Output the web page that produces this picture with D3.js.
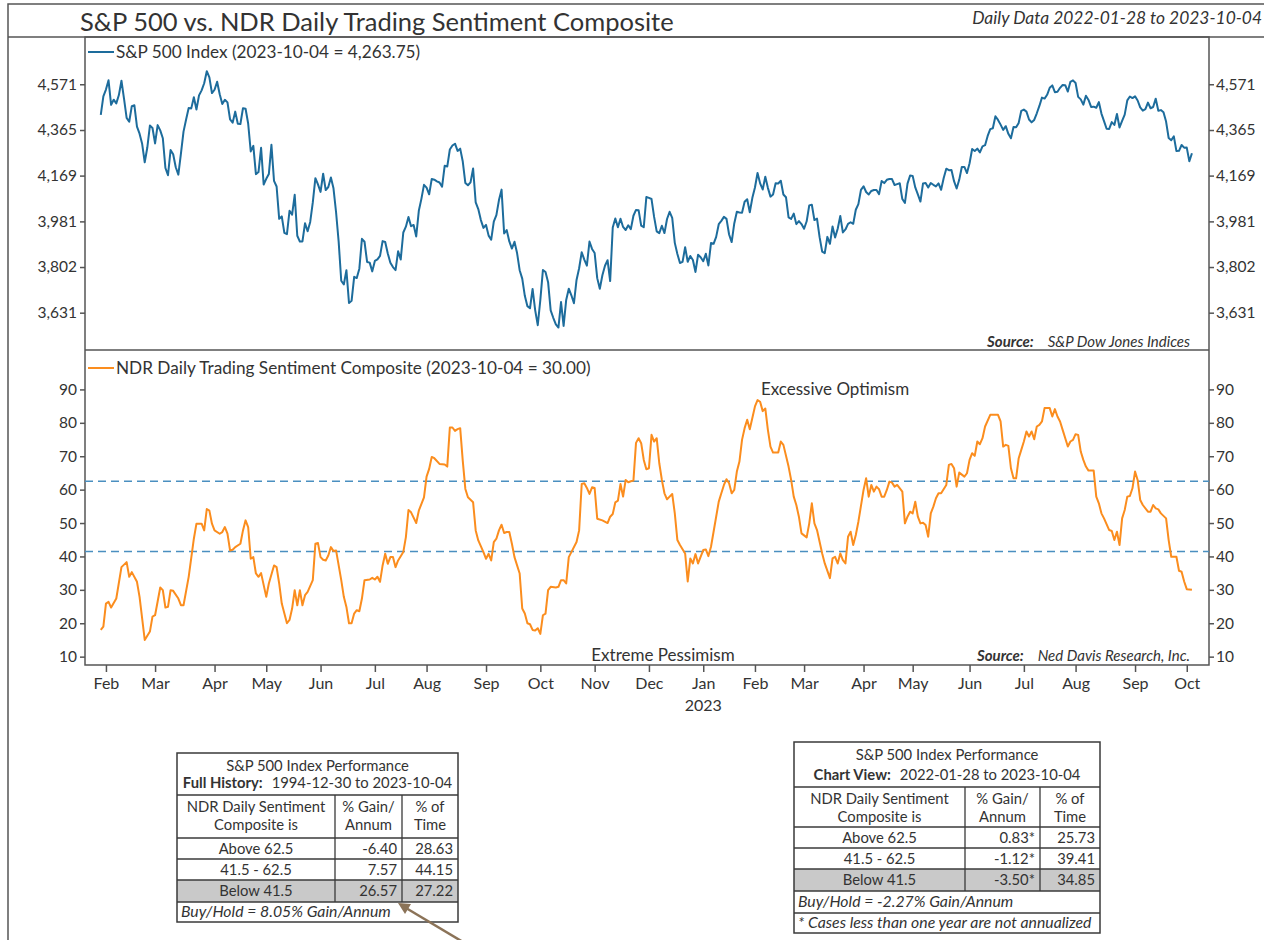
<!DOCTYPE html>
<html>
<head>
<meta charset="utf-8">
<script src="https://cdn.jsdelivr.net/npm/d3@7"></script>
<style>
  body { margin: 0; background: #fff; }
  svg text { font-family: Lato, "Open Sans", sans-serif; fill: #333; }
</style>
</head>
<body>
<svg id="chart" width="1264" height="940"></svg>
<script>
// S&P 500 vs. NDR Daily Trading Sentiment Composite
// x axis runs on trading sessions (weekends and NYSE holidays skipped)

var startDate = "2022-01-28";
var endDate = "2023-10-04";
var holidays = ["2022-02-21", "2022-04-15", "2022-05-30", "2022-06-20", "2022-07-04",
                "2022-09-05", "2022-11-24", "2022-12-26", "2023-01-02", "2023-01-16",
                "2023-02-20", "2023-04-07", "2023-05-29", "2023-06-19", "2023-07-04",
                "2023-09-04"];

// daily S&P 500 closes, one per session, grouped by month
var spxClose = [
  4431.85, 4515.55,
  4546.54, 4589.38, 4477.44, 4500.53, 4483.87, 4521.54, 4587.18, 4504.08, 4418.64, 4401.67, 4471.07, 4475.01, 4380.26, 4348.87, 4304.76, 4225.50, 4288.70, 4384.65, 4373.94,
  4306.26, 4386.54, 4363.49, 4328.87, 4201.09, 4170.70, 4277.88, 4259.52, 4204.31, 4173.11, 4262.45, 4357.86, 4411.67, 4463.12, 4461.18, 4511.61, 4456.24, 4520.16, 4543.06, 4575.52, 4631.60, 4602.45, 4530.41,
  4545.86, 4582.64, 4525.12, 4481.15, 4500.21, 4488.28, 4412.53, 4397.45, 4446.59, 4392.59, 4391.69, 4462.21, 4459.45, 4393.66, 4271.78, 4296.12, 4175.20, 4183.96, 4287.50, 4131.93,
  4155.38, 4175.48, 4300.17, 4146.87, 4123.34, 3991.24, 4001.05, 3935.18, 3930.08, 4023.89, 4008.01, 4088.85, 3923.68, 3900.79, 3901.36, 3973.75, 3941.48, 3978.73, 4057.84, 4158.24, 4132.15,
  4101.23, 4176.82, 4108.54, 4121.43, 4160.68, 4115.77, 4017.82, 3900.86, 3749.63, 3735.48, 3789.99, 3666.77, 3674.84, 3764.79, 3759.89, 3795.73, 3911.74, 3900.11, 3821.55, 3818.83, 3785.38,
  3825.33, 3831.39, 3845.08, 3902.62, 3899.38, 3854.43, 3818.80, 3801.78, 3790.38, 3863.16, 3830.85, 3936.69, 3959.90, 3998.95, 3961.63, 3966.84, 3921.05, 4023.61, 4072.43, 4130.29,
  4118.63, 4091.19, 4155.17, 4151.94, 4145.19, 4140.06, 4122.47, 4210.24, 4207.27, 4280.15, 4297.14, 4305.20, 4274.04, 4283.74, 4228.48, 4137.99, 4128.73, 4140.77, 4199.12, 4057.66, 4030.61, 3986.16, 3955.00,
  3966.85, 3924.26, 3908.19, 3979.87, 4006.18, 4067.36, 4110.41, 3932.69, 3946.01, 3901.35, 3873.33, 3899.89, 3855.93, 3789.93, 3757.99, 3693.23, 3655.04, 3647.29, 3719.04, 3640.47, 3585.62,
  3678.43, 3790.93, 3783.28, 3744.52, 3639.66, 3612.39, 3588.84, 3577.03, 3669.91, 3583.07, 3677.95, 3719.98, 3695.16, 3665.78, 3752.75, 3797.34, 3859.11, 3830.60, 3807.30, 3901.06, 3871.98,
  3856.10, 3759.69, 3719.89, 3770.55, 3806.80, 3828.11, 3748.57, 3956.37, 3992.93, 3957.25, 3991.73, 3958.79, 3946.56, 3965.34, 3949.94, 4003.58, 4027.26, 4026.12, 3963.94, 3957.63, 4080.11,
  4076.57, 4071.70, 3998.84, 3941.26, 3933.92, 3963.51, 3934.38, 3990.56, 4019.65, 3995.32, 3895.75, 3852.36, 3817.66, 3821.62, 3878.44, 3822.39, 3844.82, 3829.25, 3783.22, 3849.28, 3839.50,
  3824.14, 3852.97, 3808.10, 3895.08, 3892.09, 3919.25, 3969.61, 3983.17, 3999.09, 3990.97, 3928.86, 3898.85, 3972.61, 4019.81, 4016.95, 4016.22, 4060.43, 4070.56, 4017.77, 4076.60,
  4119.21, 4179.76, 4136.48, 4111.08, 4164.00, 4117.86, 4081.50, 4090.46, 4137.29, 4136.13, 4147.60, 4090.41, 4079.09, 3997.34, 3991.05, 4012.32, 3970.04, 3982.24, 3970.15,
  3951.39, 3981.35, 4045.64, 4048.42, 3986.37, 3992.01, 3918.32, 3861.59, 3855.76, 3919.29, 3891.93, 3960.28, 3916.64, 3951.57, 4002.87, 3936.97, 3948.72, 3970.99, 3977.53, 3971.27, 4027.81, 4050.83, 4109.31,
  4124.51, 4100.60, 4090.38, 4105.02, 4109.11, 4108.94, 4091.95, 4146.22, 4137.64, 4151.32, 4154.87, 4154.52, 4129.79, 4133.52, 4137.04, 4071.63, 4055.99, 4135.35, 4169.48,
  4167.87, 4119.58, 4090.75, 4061.22, 4136.25, 4138.12, 4119.17, 4137.64, 4130.62, 4124.08, 4136.28, 4109.90, 4158.77, 4198.05, 4191.98, 4192.63, 4145.58, 4115.24, 4151.28, 4205.45, 4205.52, 4179.83,
  4221.02, 4282.37, 4273.79, 4283.85, 4267.52, 4293.93, 4298.86, 4338.93, 4369.01, 4372.59, 4425.84, 4409.59, 4388.71, 4365.69, 4381.89, 4348.33, 4328.82, 4378.41, 4376.86, 4396.44, 4450.38,
  4455.59, 4446.82, 4411.59, 4398.95, 4409.53, 4439.26, 4472.16, 4510.04, 4505.42, 4522.79, 4554.98, 4565.72, 4534.87, 4536.34, 4554.64, 4567.46, 4566.75, 4537.41, 4582.23, 4588.96,
  4576.73, 4513.39, 4501.89, 4478.03, 4518.44, 4499.38, 4467.71, 4468.83, 4464.05, 4489.72, 4437.86, 4404.33, 4370.36, 4369.71, 4399.77, 4387.55, 4436.01, 4376.31, 4405.71, 4433.31, 4497.63, 4514.87, 4507.66,
  4515.77, 4496.83, 4465.48, 4451.14, 4457.49, 4487.46, 4461.90, 4467.44, 4505.10, 4450.32, 4453.53, 4443.95, 4402.20, 4330.00, 4320.06, 4337.44, 4273.53, 4274.51, 4299.70, 4288.05,
  4288.39, 4229.45, 4263.75
];

// sentiment composite: [session number, value]
var sentiment = [
  [0,18.0],[1,19.0],[2,25.9],[3,26.4],[4,24.7],[6,27.4],[8,36.8],[10,38.3],[11,33.9],[12,35.3],
  [14,32.4],[15,27.9],[17,15.0],[19,17.5],[20,22.0],[21,22.4],[23,30.7],[24,29.9],[25,24.7],[26,24.9],
  [27,29.9],[28,29.7],[30,27.4],[31,25.4],[32,25.4],[34,33.9],[36,45.3],[37,49.8],[39,49.8],[40,47.8],
  [41,54.2],[42,53.7],[43,49.8],[44,47.8],[46,46.8],[47,47.3],[48,48.8],[49,46.8],[50,41.8],[51,42.0],
  [52,42.8],[54,43.8],[55,47.8],[56,50.8],[57,48.8],[58,39.3],[59,39.8],[60,34.9],[61,33.9],[62,35.0],
  [64,27.9],[65,31.9],[67,37.3],[68,36.8],[69,31.9],[70,25.9],[72,20.0],[73,21.0],[74,24.4],[75,29.9],
  [76,25.4],[77,29.9],[78,25.4],[79,28.4],[80,29.4],[82,32.9],[83,43.8],[84,44.0],[85,39.8],[86,39.0],
  [87,38.8],[88,40.3],[89,42.8],[90,41.6],[91,41.8],[93,32.9],[94,27.9],[95,24.9],[96,20.0],[97,20.0],
  [98,22.9],[99,23.9],[100,23.6],[101,27.4],[102,32.9],[104,33.1],[105,33.6],[106,33.1],[107,33.9],[108,32.4],
  [109,37.3],[110,40.8],[111,37.8],[112,39.8],[113,39.8],[114,36.8],[115,38.8],[117,41.3],[118,45.8],[119,53.9],
  [120,53.2],[122,50.0],[123,53.7],[125,57.7],[126,63.9],[127,66.2],[128,69.8],[129,69.4],[131,67.7],[133,67.5],
  [134,66.9],[135,78.6],[136,78.6],[137,77.6],[138,78.1],[139,78.4],[140,68.6],[141,60.2],[142,57.7],[144,56.2],
  [145,47.8],[146,44.8],[148,41.3],[149,39.3],[150,40.8],[151,38.8],[152,44.3],[153,45.3],[154,47.8],[155,49.5],
  [156,47.0],[157,47.3],[158,47.3],[159,43.8],[160,39.8],[162,34.9],[163,24.4],[164,22.9],[165,20.0],[166,19.7],
  [167,18.0],[168,17.8],[169,18.5],[170,16.8],[171,22.4],[172,22.9],[173,29.9],[174,30.9],[176,30.7],[177,30.9],
  [178,32.9],[179,32.9],[180,31.9],[181,39.8],[182,41.3],[184,44.3],[185,47.8],[186,61.7],[187,61.9],[188,60.5],
  [189,58.7],[190,60.7],[191,60.5],[192,51.3],[194,50.8],[196,50.0],[197,51.9],[198,52.7],[199,56.2],[200,56.7],
  [201,61.7],[202,57.9],[203,62.9],[204,62.2],[205,62.5],[206,62.7],[207,74.0],[208,75.4],[209,73.9],[210,68.9],
  [211,66.1],[212,66.4],[213,76.4],[214,74.4],[215,75.4],[216,67.9],[217,62.9],[218,58.9],[219,57.1],[220,57.9],
  [221,58.7],[222,52.9],[223,44.9],[224,43.4],[226,40.9],[227,32.5],[228,39.4],[229,37.9],[230,40.7],[231,37.9],
  [233,41.9],[234,42.1],[235,40.1],[236,42.9],[237,47.4],[239,56.4],[240,58.9],[241,61.4],[242,63.1],[243,61.9],
  [244,58.9],[245,59.9],[246,65.4],[247,68.4],[248,74.9],[249,78.4],[250,80.9],[251,78.1],[253,84.9],[254,86.8],
  [255,86.3],[256,83.5],[257,84.3],[258,77.9],[259,72.9],[260,71.1],[262,71.1],[263,74.4],[264,73.4],[266,66.9],
  [267,62.9],[268,57.9],[269,55.4],[270,51.9],[271,46.9],[273,45.7],[274,49.9],[275,55.9],[276,49.9],[277,47.9],
  [279,40.9],[280,37.9],[282,33.5],[283,39.4],[284,39.9],[285,37.9],[286,40.9],[287,38.9],[288,37.9],[289,45.9],
  [290,47.4],[291,43.4],[292,46.4],[293,50.4],[295,59.9],[296,63.4],[297,57.9],[298,61.4],[299,59.4],[300,60.9],
  [301,60.1],[302,57.9],[303,57.9],[304,59.9],[305,62.4],[306,62.1],[307,60.9],[308,61.4],[310,59.4],[311,49.9],
  [312,51.9],[313,53.4],[314,52.9],[315,56.4],[316,51.9],[317,49.9],[318,50.1],[319,49.4],[320,45.9],[321,52.9],
  [322,54.9],[323,57.4],[324,58.9],[325,58.9],[327,61.4],[328,67.4],[329,67.7],[330,66.4],[331,60.9],[332,65.1],
  [334,63.9],[335,64.9],[336,68.9],[337,70.9],[338,70.1],[339,74.4],[340,73.6],[341,75.4],[342,78.9],[344,82.4],
  [345,82.4],[347,82.4],[348,80.4],[349,72.9],[350,73.4],[351,73.1],[352,66.4],[353,63.4],[354,63.4],[355,69.4],
  [356,71.9],[357,74.4],[358,77.4],[359,75.9],[360,77.4],[361,75.1],[362,78.9],[363,79.4],[364,80.4],[365,84.4],
  [367,84.4],[368,81.9],[369,84.1],[370,81.9],[371,80.4],[372,77.9],[374,72.9],[375,74.4],[376,74.9],[377,76.6],
  [378,76.4],[379,71.4],[380,68.9],[381,66.9],[382,65.7],[384,65.7],[385,57.9],[386,55.9],[387,52.9],[388,51.4],
  [390,47.9],[391,47.6],[392,44.9],[393,47.4],[394,43.4],[395,51.4],[396,53.9],[397,57.9],[398,58.1],[399,60.4],
  [400,65.4],[401,62.9],[402,56.9],[403,55.4],[405,53.4],[406,53.4],[407,55.4],[408,54.4],[409,54.1],[410,52.9],
  [412,51.4],[413,44.9],[414,39.9],[415,39.9],[416,39.9],[417,35.7],[418,35.4],[419,32.5],[420,30.2],[422,30.0]
];

var spxTicks = [3631, 3802, 3981, 4169, 4365, 4571];
var sentimentTicks = [10, 20, 30, 40, 50, 60, 70, 80, 90];
var thresholds = [62.5, 41.5];

var fullHistoryRows = [
  ["Above 62.5", "-6.40", "28.63"],
  ["41.5 - 62.5", "7.57", "44.15"],
  ["Below 41.5", "26.57", "27.22"]
];
var chartViewRows = [
  ["Above 62.5", "0.83*", "25.73"],
  ["41.5 - 62.5", "-1.12*", "39.41"],
  ["Below 41.5", "-3.50*", "34.85"]
];

// trading sessions
var parseDay = d3.utcParse("%Y-%m-%d");
var fmtDay = d3.utcFormat("%Y-%m-%d");
var sessions = d3.utcDays(parseDay(startDate), d3.utcDay.offset(parseDay(endDate), 1))
  .filter(function (d) { return d.getUTCDay() % 6 !== 0 && holidays.indexOf(fmtDay(d)) < 0; });

var monthStarts = sessions.map(function (d, i) { return i; })
  .filter(function (i) { return i > 0 && sessions[i].getUTCMonth() !== sessions[i - 1].getUTCMonth(); });

var svg = d3.select("#chart");
var box = { left: 85, right: 1209, top: 37, mid: 350, bottom: 665 };
var axisColor = "#555";

var x = d3.scaleLinear().domain([-6.1, 428.6]).range([box.left, box.right]);
var ySpx = d3.scaleLog().domain([3497, 4794]).range([box.mid, box.top]);
var ySent = d3.scaleLinear().domain([7.5, 101.8]).range([box.bottom, box.mid]);

// outer frame and title
svg.append("path")
   .attr("d", "M8,940 V4 H1264 M8,37 H1264")
   .attr("fill", "none").attr("stroke", axisColor).attr("stroke-width", 1.5);

svg.append("text").attr("x", 80).attr("y", 31)
   .style("font-size", "25.5px")
   .text("S&P 500 vs. NDR Daily Trading Sentiment Composite");

svg.append("text").attr("x", 1262).attr("y", 24).attr("text-anchor", "end")
   .style("font-size", "17.4px").style("font-style", "italic")
   .text("Daily Data 2022-01-28 to 2023-10-04");

// plot box
svg.append("rect")
   .attr("x", box.left).attr("y", box.top)
   .attr("width", box.right - box.left).attr("height", box.bottom - box.top)
   .attr("fill", "none").attr("stroke", axisColor).attr("stroke-width", 1.5);
svg.append("line")
   .attr("x1", box.left).attr("x2", box.right).attr("y1", box.mid).attr("y2", box.mid)
   .attr("stroke", axisColor).attr("stroke-width", 1.5);

function styleAxis(g) {
  g.select(".domain").remove();
  g.selectAll(".tick line").attr("stroke", axisColor).attr("stroke-width", 1.5);
  g.selectAll(".tick text").attr("fill", "#333")
   .style("font-size", "15.5px").style("font-family", "Lato, sans-serif");
}

svg.append("g").attr("transform", "translate(" + box.left + ",0)")
   .call(d3.axisLeft(ySpx).tickValues(spxTicks).tickFormat(d3.format(",")).tickSize(5).tickPadding(3))
   .call(styleAxis);
svg.append("g").attr("transform", "translate(" + box.right + ",0)")
   .call(d3.axisRight(ySpx).tickValues(spxTicks).tickFormat(d3.format(",")).tickSize(5).tickPadding(2))
   .call(styleAxis);
svg.append("g").attr("transform", "translate(" + box.left + ",0)")
   .call(d3.axisLeft(ySent).tickValues(sentimentTicks).tickSize(5).tickPadding(3))
   .call(styleAxis);
svg.append("g").attr("transform", "translate(" + box.right + ",0)")
   .call(d3.axisRight(ySent).tickValues(sentimentTicks).tickSize(5).tickPadding(2))
   .call(styleAxis);

svg.append("g").attr("transform", "translate(0," + box.bottom + ")")
   .call(d3.axisBottom(x).tickValues(monthStarts)
           .tickFormat(function (i) { return d3.utcFormat("%b")(sessions[i]); })
           .tickSize(7).tickPadding(6))
   .call(styleAxis)
   .selectAll(".tick text").style("font-size", "16px");

// year label under the first January
monthStarts.filter(function (i) { return sessions[i].getUTCMonth() === 0; })
  .forEach(function (i) {
    svg.append("text").attr("x", x(i)).attr("y", 711)
       .attr("text-anchor", "middle").style("font-size", "16px")
       .text(sessions[i].getUTCFullYear());
  });

// threshold lines
svg.selectAll(".threshold").data(thresholds).enter().append("line")
   .attr("class", "threshold")
   .attr("x1", box.left).attr("x2", box.right)
   .attr("y1", function (d) { return ySent(d); })
   .attr("y2", function (d) { return ySent(d); })
   .attr("stroke", "#4a8fc0").attr("stroke-width", 1.5).attr("stroke-dasharray", "8,5");

// series
var spxColor = "#1d6c9c";
var sentColor = "#fb8d1e";

svg.append("path").datum(spxClose)
   .attr("d", d3.line().x(function (d, i) { return x(i); }).y(function (d) { return ySpx(d); }))
   .attr("fill", "none").attr("stroke", spxColor).attr("stroke-width", 2).attr("stroke-linejoin", "round");

svg.append("path").datum(sentiment)
   .attr("d", d3.line().x(function (d) { return x(d[0]); }).y(function (d) { return ySent(d[1]); }))
   .attr("fill", "none").attr("stroke", sentColor).attr("stroke-width", 2).attr("stroke-linejoin", "round");

// legends
function drawLegend(y, color, label) {
  svg.append("line").attr("x1", 88).attr("x2", 114).attr("y1", y).attr("y2", y)
     .attr("stroke", color).attr("stroke-width", 2);
  svg.append("text").attr("x", 116).attr("y", y + 6).style("font-size", "17.2px").text(label);
}
drawLegend(52, spxColor, "S&P 500 Index (2023-10-04 = " + d3.format(",.2f")(spxClose[spxClose.length - 1]) + ")");
drawLegend(368, sentColor, "NDR Daily Trading Sentiment Composite (2023-10-04 = " +
           d3.format(".2f")(sentiment[sentiment.length - 1][1]) + ")");

// source notes
function drawSource(y, who) {
  var t = svg.append("text").attr("x", 1190).attr("y", y)
     .attr("text-anchor", "end").style("font-size", "15px").style("font-style", "italic");
  t.append("tspan").style("font-weight", "bold").text("Source:");
  t.append("tspan").attr("dx", 14).text(who);
}
drawSource(347, "S&P Dow Jones Indices");
drawSource(661, "Ned Davis Research, Inc.");

svg.append("text").attr("x", 835).attr("y", 395).attr("text-anchor", "middle")
   .style("font-size", "17px").text("Excessive Optimism");
svg.append("text").attr("x", 663).attr("y", 661).attr("text-anchor", "middle")
   .style("font-size", "17px").text("Extreme Pessimism");

// performance tables
function drawTable(t) {
  var g = svg.append("g");
  var c = t.cols, r = t.rows;
  var mid = function (a, b) { return (a + b) / 2; };

  g.append("rect").attr("x", c[0]).attr("y", r[4]).attr("width", c[3] - c[0]).attr("height", r[5] - r[4])
   .attr("fill", "#c9c9c9");
  g.append("rect").attr("x", c[0]).attr("y", r[0])
   .attr("width", c[3] - c[0]).attr("height", r[r.length - 1] - r[0])
   .attr("fill", "none").attr("stroke", "#3a3a3a").attr("stroke-width", 1.5);
  r.slice(1, r.length - 1).forEach(function (y) {
    g.append("line").attr("x1", c[0]).attr("x2", c[3]).attr("y1", y).attr("y2", y)
     .attr("stroke", "#3a3a3a").attr("stroke-width", 1.3);
  });
  [c[1], c[2]].forEach(function (xx) {
    g.append("line").attr("x1", xx).attr("x2", xx).attr("y1", r[1]).attr("y2", r[5])
     .attr("stroke", "#3a3a3a").attr("stroke-width", 1.3);
  });

  var fs = "14.8px";
  var cx = mid(c[0], c[3]);
  g.append("text").attr("x", cx).attr("y", r[0] + 18).attr("text-anchor", "middle")
   .style("font-size", fs).text("S&P 500 Index Performance");
  var sub = g.append("text").attr("x", cx).attr("y", r[1] - 7).attr("text-anchor", "middle").style("font-size", fs);
  sub.append("tspan").style("font-weight", "bold").text(t.period);
  sub.append("tspan").attr("dx", 9).text(t.range);

  var head = [["NDR Daily Sentiment", "Composite is"], ["% Gain/", "Annum"], ["% of", "Time"]];
  head.forEach(function (h, k) {
    h.forEach(function (line, j) {
      g.append("text").attr("x", mid(c[k], c[k + 1])).attr("y", r[1] + 17 + j * 18)
       .attr("text-anchor", "middle").style("font-size", fs).text(line);
    });
  });

  t.data.forEach(function (row, k) {
    var y = mid(r[2 + k], r[3 + k]) + 5;
    g.append("text").attr("x", mid(c[0], c[1])).attr("y", y).attr("text-anchor", "middle")
     .style("font-size", fs).text(row[0]);
    g.append("text").attr("x", c[2] - 5).attr("y", y).attr("text-anchor", "end")
     .style("font-size", fs).text(row[1]);
    g.append("text").attr("x", c[3] - 5).attr("y", y).attr("text-anchor", "end")
     .style("font-size", fs).text(row[2]);
  });

  t.notes.forEach(function (note, k) {
    g.append("text").attr("x", c[0] + 4).attr("y", mid(r[5 + k], r[6 + k]) + 5)
     .style("font-size", "15.8px").style("font-style", "italic").text(note);
  });
}

drawTable({
  cols: [177, 335, 402, 458],
  rows: [753, 795, 838, 859, 880, 902, 922],
  period: "Full History:",
  range: "1994-12-30 to 2023-10-04",
  data: fullHistoryRows,
  notes: ["Buy/Hold = 8.05% Gain/Annum"]
});

drawTable({
  cols: [794, 965, 1040, 1100],
  rows: [742, 787, 827, 848, 869, 891, 913, 933],
  period: "Chart View:",
  range: "2022-01-28 to 2023-10-04",
  data: chartViewRows,
  notes: ["Buy/Hold = -2.27% Gain/Annum", "* Cases less than one year are not annualized"]
});

// arrow pointing at the full-history "Below 41.5" row
svg.append("line").attr("x1", 463).attr("y1", 942).attr("x2", 406).attr("y2", 908)
   .attr("stroke", "#8b7358").attr("stroke-width", 2.5);
svg.append("path").attr("d", "M398,903 L411,904 L405,914 Z").attr("fill", "#8b7358");
</script>
</body>
</html>
